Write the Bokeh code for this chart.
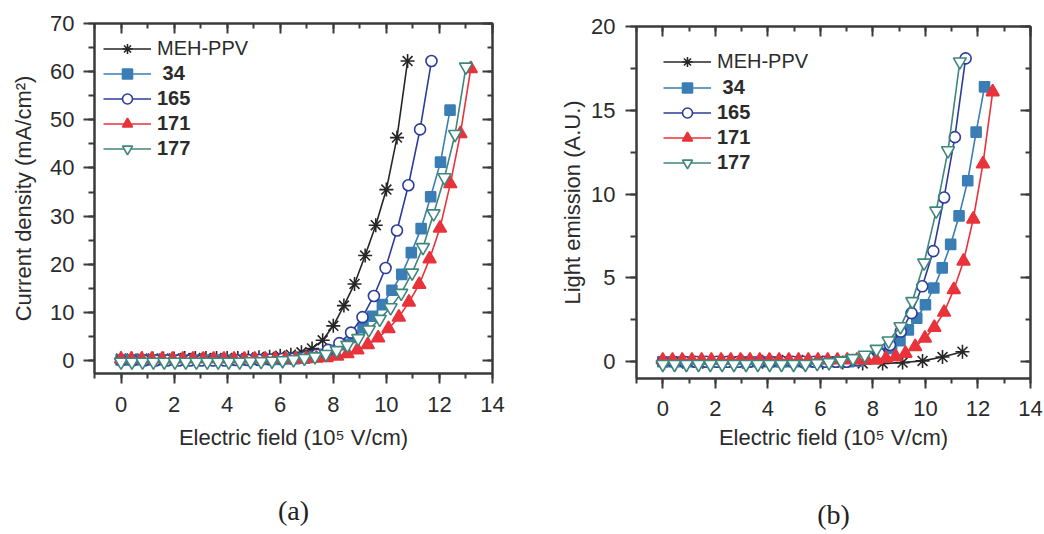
from bokeh.plotting import figure
from bokeh.models import (LinearAxis, SingleIntervalTicker, Range1d, Legend,
                          LegendItem)
from bokeh.layouts import row
from bokeh.embed import file_html
from bokeh.resources import INLINE

# ---------------- data: panel (a) current density (mA/cm^2) ----------------
series_names = ["MEH-PPV", " 34", "165", "171", "177"]

a_meh_x = [0.0, 0.4, 0.8, 1.2, 1.6, 2.0, 2.4, 2.8, 3.2, 3.6, 4.0, 4.4, 4.8, 5.2,
           5.6, 6.0, 6.4, 6.8, 7.2, 7.6, 8.0, 8.4, 8.8, 9.2, 9.6, 10.0, 10.4, 10.8]
a_meh_y = [0.4, 0.4, 0.4, 0.4, 0.4, 0.4, 0.5, 0.5, 0.5, 0.5, 0.5, 0.5, 0.6, 0.7,
           0.8, 1.0, 1.2, 1.7, 2.5, 4.2, 7.2, 11.4, 15.9, 21.8, 28.1, 35.5, 46.3, 62.2]

a_34_x = [0.00, 0.36, 0.73, 1.09, 1.46, 1.82, 2.19, 2.55, 2.92, 3.28, 3.65, 4.01,
          4.38, 4.74, 5.11, 5.47, 5.84, 6.20, 6.56, 6.93, 7.29, 7.66, 8.02, 8.39,
          8.75, 9.12, 9.48, 9.85, 10.21, 10.58, 10.94, 11.31, 11.67, 12.04, 12.40]
a_34_y = [0.1, 0.1, 0.1, 0.1, 0.1, 0.1, 0.1, 0.1, 0.1, 0.1, 0.1, 0.1, 0.1, 0.1,
          0.2, 0.2, 0.2, 0.3, 0.4, 0.5, 0.8, 1.3, 2.1, 3.3, 4.8, 6.8, 9.2, 11.6,
          14.6, 17.9, 22.4, 27.4, 34.0, 41.2, 52.0]

a_165_x = [0.0, 0.43, 0.87, 1.30, 1.73, 2.17, 2.60, 3.03, 3.47, 3.90, 4.33, 4.77,
           5.20, 5.63, 6.07, 6.50, 6.93, 7.37, 7.80, 8.23, 8.67, 9.10, 9.53, 9.97,
           10.40, 10.83, 11.27, 11.70]
a_165_y = [0.0, 0.0, 0.0, 0.0, 0.0, 0.0, 0.0, 0.0, 0.0, 0.0, 0.1, 0.1, 0.1, 0.2,
           0.3, 0.4, 0.7, 1.2, 2.2, 3.6, 5.8, 9.0, 13.4, 19.2, 27.0, 36.4, 48.0, 62.2]

a_171_x = [0.00, 0.39, 0.78, 1.16, 1.55, 1.94, 2.33, 2.71, 3.10, 3.49, 3.88, 4.26,
           4.65, 5.04, 5.43, 5.81, 6.20, 6.59, 6.98, 7.36, 7.75, 8.14, 8.53, 8.91,
           9.30, 9.69, 10.08, 10.47, 10.85, 11.24, 11.63, 12.02, 12.41, 12.79, 13.18]
a_171_y = [0.3, 0.3, 0.3, 0.3, 0.3, 0.3, 0.3, 0.3, 0.3, 0.3, 0.3, 0.3, 0.3, 0.3,
           0.3, 0.3, 0.3, 0.3, 0.4, 0.5, 0.6, 0.9, 1.4, 2.2, 3.3, 4.7, 6.6, 9.0,
           12.1, 15.8, 21.1, 27.5, 36.7, 47.1, 60.6]

a_177_x = [0.00, 0.41, 0.81, 1.22, 1.63, 2.03, 2.44, 2.84, 3.25, 3.66, 4.06, 4.47,
           4.88, 5.28, 5.69, 6.09, 6.50, 6.91, 7.31, 7.72, 8.13, 8.53, 8.94, 9.34,
           9.75, 10.16, 10.56, 10.97, 11.38, 11.78, 12.19, 12.59, 13.00]
a_177_y = [-0.3, -0.3, -0.3, -0.3, -0.3, -0.3, -0.3, -0.3, -0.3, -0.3, -0.3, -0.3,
           -0.2, -0.2, -0.1, 0.0, 0.2, 0.5, 0.8, 1.3, 2.1, 3.2, 4.6, 6.4, 8.6, 11.0,
           14.0, 18.2, 23.5, 30.5, 38.0, 47.0, 61.0]

# ---------------- data: panel (b) light emission (A.U.) ----------------
b_meh_x = [0.00, 0.76, 1.52, 2.28, 3.04, 3.80, 4.56, 5.32, 6.09, 6.85, 7.61, 8.37,
           9.13, 9.89, 10.65, 11.41]
b_meh_y = [0.0, 0.0, 0.0, 0.0, 0.0, 0.0, 0.0, 0.0, -0.05, -0.05, -0.1, -0.1,
           -0.05, 0.05, 0.28, 0.6]

b_34_x = [0.00, 0.32, 0.64, 0.97, 1.29, 1.61, 1.93, 2.26, 2.58, 2.90, 3.22, 3.55,
          3.87, 4.19, 4.51, 4.84, 5.16, 5.48, 5.80, 6.13, 6.45, 6.77, 7.09, 7.42,
          7.74, 8.06, 8.38, 8.71, 9.03, 9.35, 9.67, 10.00, 10.32, 10.64, 10.96,
          11.28, 11.61, 11.93, 12.25]
b_34_y = [0.0, 0.0, 0.0, 0.0, 0.0, 0.0, 0.0, 0.0, 0.0, 0.0, 0.0, 0.0, 0.0, 0.0,
          0.0, 0.0, 0.0, 0.0, 0.0, 0.0, 0.0, 0.0, 0.0, 0.05, 0.15, 0.3, 0.5, 0.8,
          1.25, 1.9, 2.6, 3.4, 4.4, 5.6, 7.0, 8.7, 10.8, 13.7, 16.4]

b_165_x = [0.00, 0.41, 0.82, 1.24, 1.65, 2.06, 2.47, 2.88, 3.29, 3.71, 4.12, 4.53,
           4.94, 5.35, 5.77, 6.18, 6.59, 7.00, 7.41, 7.83, 8.24, 8.65, 9.06, 9.47,
           9.88, 10.30, 10.71, 11.12, 11.53]
b_165_y = [0.0, 0.0, 0.0, 0.0, 0.0, 0.0, 0.0, 0.0, 0.0, 0.0, 0.0, 0.0, 0.0, 0.0,
           0.0, 0.0, 0.0, 0.0, 0.1, 0.25, 0.5, 1.0, 1.8, 2.9, 4.5, 6.6, 9.8, 13.4, 18.1]

b_171_x = [0.00, 0.37, 0.74, 1.11, 1.48, 1.85, 2.22, 2.59, 2.96, 3.32, 3.69, 4.06,
           4.43, 4.80, 5.17, 5.54, 5.91, 6.28, 6.65, 7.02, 7.39, 7.76, 8.13, 8.50,
           8.87, 9.24, 9.61, 9.98, 10.34, 10.71, 11.08, 11.45, 11.82, 12.19, 12.56]
b_171_y = [0.1, 0.1, 0.1, 0.1, 0.1, 0.1, 0.1, 0.1, 0.1, 0.1, 0.1, 0.1, 0.1, 0.1,
           0.1, 0.1, 0.1, 0.1, 0.1, 0.1, 0.1, 0.1, 0.1, 0.2, 0.3, 0.5, 0.9, 1.4,
           2.05, 2.95, 4.3, 6.0, 8.5, 11.8, 16.1]

b_177_x = [0.00, 0.45, 0.90, 1.36, 1.81, 2.26, 2.71, 3.17, 3.62, 4.07, 4.52, 4.98,
           5.43, 5.88, 6.33, 6.79, 7.24, 7.69, 8.14, 8.60, 9.05, 9.50, 9.95, 10.41,
           10.86, 11.31]
b_177_y = [-0.15, -0.15, -0.15, -0.15, -0.15, -0.15, -0.15, -0.15, -0.15, -0.15,
           -0.15, -0.15, -0.15, -0.1, -0.05, 0.05, 0.2, 0.4, 0.75, 1.25, 2.1, 3.6,
           5.9, 9.0, 12.6, 17.9]

x_ticks_interval = 2
a_y_interval = 10
b_y_interval = 5

# ---------------- styling ----------------
FONT = "Liberation Sans"
TXT = "#2b2b2b"
AXC = "#3a3a3a"
styles = [
    dict(marker="asterisk", color="#262626", fill="#262626", size=14),
    dict(marker="square", color="#3b7db5", fill="#3b7db5", size=10),
    dict(marker="circle", color="#2b3d99", fill="white", size=11),
    dict(marker="triangle", color="#e8333b", fill="#e8333b", size=13),
    dict(marker="inverted_triangle", color="#3f867c", fill="white", size=13),
]


def style_axis(ax, tick_in, tick_out, minor_in, minor_out, labels=True):
    ax.axis_line_color = AXC
    ax.axis_line_width = 2
    ax.major_tick_line_color = AXC
    ax.minor_tick_line_color = AXC
    ax.major_tick_line_width = 2
    ax.minor_tick_line_width = 2
    ax.major_tick_in = tick_in
    ax.major_tick_out = tick_out
    ax.minor_tick_in = minor_in
    ax.minor_tick_out = minor_out
    if labels:
        ax.major_label_text_font = FONT
        ax.major_label_text_font_size = "22px"
        ax.major_label_text_color = TXT
        ax.axis_label_text_font = FONT
        ax.axis_label_text_font_size = "22px"
        ax.axis_label_text_font_style = "normal"
        ax.axis_label_text_color = TXT
    else:
        ax.major_label_text_font_size = "1px"
        ax.major_label_text_color = None
        ax.major_label_standoff = 0


def make_panel(width, height, borders, yrange, yint, ylabel, data, leg_x, leg_y1,
               leg_y2, tag, tag_standoff, y_standoff, ylab_standoff, x_standoff,
               xlab_standoff, margin):
    bl, br, bt, bb = borders
    p = figure(width=width, height=height, x_range=Range1d(-1, 14),
               y_range=Range1d(*yrange), output_backend="svg",
               toolbar_location=None, min_border_left=bl, min_border_right=br,
               min_border_top=bt, min_border_bottom=bb, margin=margin)
    p.xgrid.visible = False
    p.ygrid.visible = False
    p.outline_line_color = AXC
    p.outline_line_width = 2
    p.background_fill_color = "white"
    p.border_fill_color = "white"

    p.xaxis.ticker = SingleIntervalTicker(interval=x_ticks_interval, num_minor_ticks=2)
    p.yaxis.ticker = SingleIntervalTicker(interval=yint, num_minor_ticks=2)
    p.xaxis.axis_label = "Electric field (10\u2075 V/cm)"
    p.yaxis.axis_label = ylabel
    style_axis(p.xaxis[0], 0, 10, 0, 5)
    style_axis(p.yaxis[0], 0, 11, 0, 6)
    p.xaxis.major_label_standoff = x_standoff
    p.xaxis.axis_label_standoff = xlab_standoff
    p.yaxis.major_label_standoff = y_standoff
    p.yaxis.axis_label_standoff = ylab_standoff

    top = LinearAxis(ticker=SingleIntervalTicker(interval=x_ticks_interval, num_minor_ticks=2))
    style_axis(top, 10, 0, 5, 0, labels=False)
    p.add_layout(top, "above")
    right = LinearAxis(ticker=SingleIntervalTicker(interval=yint, num_minor_ticks=2))
    style_axis(right, 10, 0, 5, 0, labels=False)
    p.add_layout(right, "right")

    # panel tag "(a)" / "(b)" placed as the label of a bare axis below the x axis
    tag_axis = LinearAxis(ticker=SingleIntervalTicker(interval=x_ticks_interval))
    style_axis(tag_axis, 0, 0, 0, 0, labels=False)
    tag_axis.axis_line_color = None
    tag_axis.major_tick_line_color = None
    tag_axis.minor_tick_line_color = None
    tag_axis.axis_label = tag
    tag_axis.axis_label_text_font = "Liberation Serif"
    tag_axis.axis_label_text_font_size = "28px"
    tag_axis.axis_label_text_font_style = "normal"
    tag_axis.axis_label_text_color = "#222222"
    tag_axis.axis_label_standoff = tag_standoff
    p.add_layout(tag_axis, "below")

    items = []
    for (xs, ys), name, st in zip(data, series_names, styles):
        lr = p.line(xs, ys, line_color=st["color"], line_width=1.6)
        sr = p.scatter(xs, ys, marker=st["marker"], size=st["size"],
                       line_color=st["color"], fill_color=st["fill"], line_width=1.6)
        items.append(LegendItem(label=name, renderers=[lr, sr]))

    common = dict(border_line_color=None, background_fill_alpha=0, padding=0,
                  margin=0, spacing=0, label_height=25, glyph_height=25,
                  glyph_width=48, label_standoff=6, label_text_font=FONT,
                  label_text_font_size="20px", label_text_color=TXT)
    leg1 = Legend(items=items[:1], location=(leg_x, leg_y1),
                  label_text_font_style="normal", **common)
    leg2 = Legend(items=items[1:], location=(leg_x, leg_y2),
                  label_text_font_style="bold", **common)
    p.add_layout(leg1)
    p.add_layout(leg2)
    return p


p1 = make_panel(530, 529, (94, 38, 23, 156), (-2.7, 70), a_y_interval,
                "Current density (mA/cm\u00b2)",
                [(a_meh_x, a_meh_y), (a_34_x, a_34_y), (a_165_x, a_165_y),
                 (a_171_x, a_171_y), (a_177_x, a_177_y)],
                9, 312.5, 212.5, "(a)", 42, 9, 11, 13, 10, (0, 0, 0, 0))
p2 = make_panel(514, 531, (106, 14, 23, 156), (-1, 20), b_y_interval,
                "Light emission (A.U.)",
                [(b_meh_x, b_meh_y), (b_34_x, b_34_y), (b_165_x, b_165_y),
                 (b_171_x, b_171_y), (b_177_x, b_177_y)],
                27, 303.8, 203.5, "(b)", 46, 10, 3, 12, 6, (3, 0, 0, 0))

layout = row(p1, p2)
open("out.html", "w").write(file_html(layout, INLINE))
